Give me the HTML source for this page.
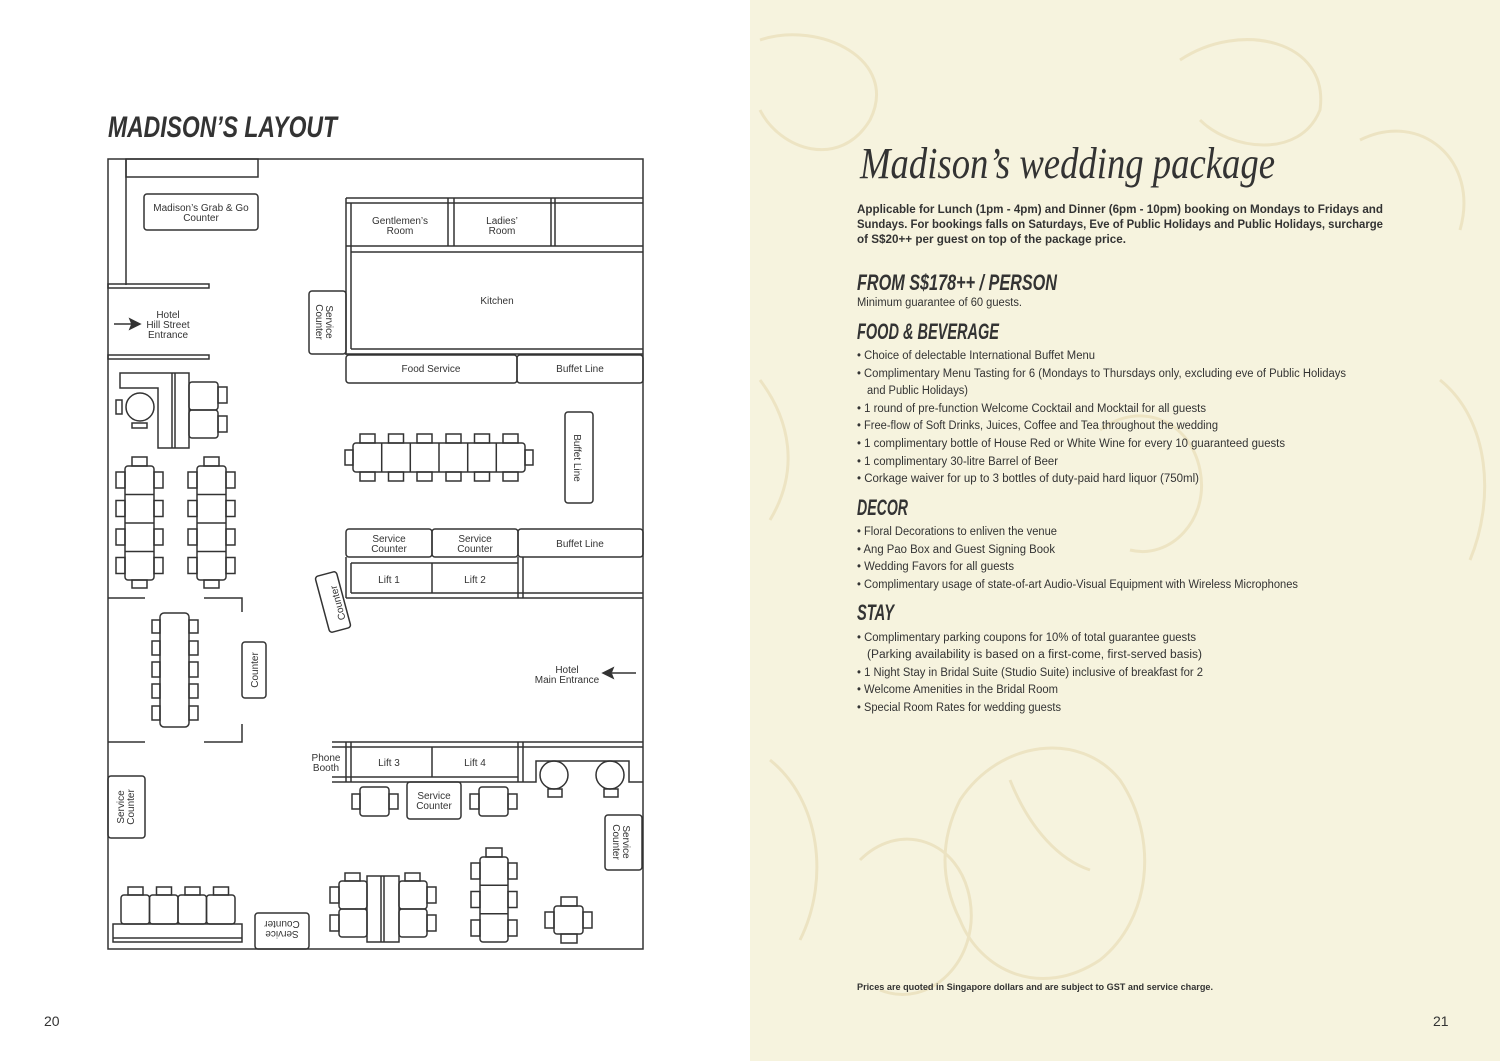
<!DOCTYPE html>
<html><head><meta charset="utf-8"><style>
html,body{margin:0;padding:0;background:#fff}
svg{display:block}
.t{font-family:"Liberation Sans",sans-serif;fill:#333}
</style></head><body>
<svg width="1500" height="1061" viewBox="0 0 1500 1061" xmlns="http://www.w3.org/2000/svg">
<rect x="0" y="0" width="750" height="1061" fill="#fff"/>
<rect x="750" y="0" width="750" height="1061" fill="#f6f3de"/>
<!-- faint floral hints -->
<g fill="none" stroke="#ece2c0" stroke-width="3" opacity="0.9">
<path d="M760 40 C820 20 900 60 870 120 C840 170 780 150 760 110"/>
<path d="M1180 60 C1240 20 1330 40 1320 110 C1300 160 1230 150 1200 120"/>
<path d="M1360 140 C1420 110 1480 160 1460 230"/>
<path d="M760 380 C790 420 800 470 770 520"/>
<path d="M1440 380 C1490 420 1495 500 1470 560"/>
<path d="M960 800 C1000 740 1080 730 1120 780 C1160 840 1150 920 1100 960 C1040 1000 980 970 960 920 C940 880 940 840 960 800Z"/>
<path d="M860 860 C900 820 960 840 970 900 C980 960 930 1010 880 990"/>
<path d="M770 760 C820 800 830 880 800 940"/>
<path d="M1010 780 C1030 830 1060 860 1090 870"/>
<path d="M1100 430 C1140 400 1190 420 1200 470 C1210 520 1170 560 1130 550"/>
</g>

<!-- LEFT PAGE -->
<text class="t" x="108" y="137" font-size="30" font-weight="bold" font-style="italic" textLength="229" lengthAdjust="spacingAndGlyphs">MADISON’S LAYOUT</text>
<text class="t" x="44" y="1026" font-size="14" fill="#444">20</text>

<g fill="none" stroke="#333" stroke-width="1.5">
<rect x="108" y="159" width="535" height="790"/>
<line x1="126" y1="159" x2="126" y2="285"/>
<rect x="126" y="159" width="132" height="18"/>
<rect x="144" y="194" width="114" height="36" rx="3"/>
<rect x="108" y="284" width="101" height="4"/>
<rect x="108" y="355" width="101" height="4"/>
<line x1="346" y1="198" x2="643" y2="198"/>
<line x1="346" y1="203" x2="643" y2="203"/>
<line x1="346" y1="198" x2="346" y2="355"/>
<line x1="351" y1="203" x2="351" y2="349"/>
<line x1="448" y1="198" x2="448" y2="246"/>
<line x1="454" y1="198" x2="454" y2="246"/>
<line x1="551" y1="198" x2="551" y2="246"/>
<line x1="555" y1="198" x2="555" y2="246"/>
<line x1="346" y1="246" x2="643" y2="246"/>
<line x1="351" y1="252" x2="643" y2="252"/>
<line x1="351" y1="349" x2="643" y2="349"/>
<line x1="346" y1="354" x2="643" y2="354"/>
<rect x="309" y="291" width="37" height="63" rx="3"/>
<rect x="346" y="355" width="171" height="28" rx="3"/>
<rect x="517" y="355" width="126" height="28" rx="3"/>
<rect x="565" y="412" width="28" height="91" rx="3"/>
<rect x="353" y="443" width="172" height="29" rx="3"/>
<line x1="381.7" y1="443" x2="381.7" y2="472"/><line x1="410.3" y1="443" x2="410.3" y2="472"/><line x1="439" y1="443" x2="439" y2="472"/><line x1="467.7" y1="443" x2="467.7" y2="472"/><line x1="496.3" y1="443" x2="496.3" y2="472"/>
<rect x="360" y="434" width="15" height="9"/><rect x="388.5" y="434" width="15" height="9"/><rect x="417" y="434" width="15" height="9"/><rect x="446" y="434" width="15" height="9"/><rect x="474.5" y="434" width="15" height="9"/><rect x="503" y="434" width="15" height="9"/>
<rect x="360" y="472" width="15" height="9"/><rect x="388.5" y="472" width="15" height="9"/><rect x="417" y="472" width="15" height="9"/><rect x="446" y="472" width="15" height="9"/><rect x="474.5" y="472" width="15" height="9"/><rect x="503" y="472" width="15" height="9"/>
<rect x="345" y="450" width="8" height="15"/><rect x="525" y="450" width="8" height="15"/>
<rect x="346" y="529" width="86" height="28" rx="3"/>
<rect x="432" y="529" width="86" height="28" rx="3"/>
<rect x="518" y="529" width="125" height="28" rx="3"/>
<line x1="346" y1="557" x2="346" y2="598"/>
<line x1="351" y1="563" x2="351" y2="593"/>
<line x1="351" y1="563" x2="518" y2="563"/>
<line x1="351" y1="593" x2="643" y2="593"/>
<line x1="346" y1="598" x2="643" y2="598"/>
<line x1="432" y1="563" x2="432" y2="593"/>
<line x1="518" y1="557" x2="518" y2="598"/>
<line x1="523" y1="557" x2="523" y2="598"/>
<rect x="322" y="573" width="22" height="58" rx="3" transform="rotate(-15 333 602)"/>
<path d="M120 373 H189 V448 H158 V388 H120 Z"/>
<line x1="172" y1="373" x2="172" y2="448"/><line x1="175" y1="373" x2="175" y2="448"/>
<circle cx="140" cy="407" r="14"/>
<rect x="116" y="400" width="6" height="14"/>
<rect x="132" y="423" width="15" height="5"/>
<rect x="189" y="382" width="29" height="28" rx="3"/>
<rect x="189" y="410" width="29" height="28" rx="3"/>
<rect x="218" y="387" width="9" height="16"/>
<rect x="218" y="416" width="9" height="16"/>
<rect x="125" y="466" width="29" height="114" rx="3"/>
<line x1="125" y1="494.5" x2="154" y2="494.5"/><line x1="125" y1="523" x2="154" y2="523"/><line x1="125" y1="551.5" x2="154" y2="551.5"/>
<rect x="132" y="457" width="15" height="9"/><rect x="132" y="580" width="15" height="8"/>
<rect x="116" y="472" width="9" height="16"/><rect x="116" y="500.5" width="9" height="16"/><rect x="116" y="529" width="9" height="16"/><rect x="116" y="557.5" width="9" height="16"/>
<rect x="154" y="472" width="9" height="16"/><rect x="154" y="500.5" width="9" height="16"/><rect x="154" y="529" width="9" height="16"/><rect x="154" y="557.5" width="9" height="16"/>
<rect x="197" y="466" width="29" height="114" rx="3"/>
<line x1="197" y1="494.5" x2="226" y2="494.5"/><line x1="197" y1="523" x2="226" y2="523"/><line x1="197" y1="551.5" x2="226" y2="551.5"/>
<rect x="204" y="457" width="15" height="9"/><rect x="204" y="580" width="15" height="8"/>
<rect x="188" y="472" width="9" height="16"/><rect x="188" y="500.5" width="9" height="16"/><rect x="188" y="529" width="9" height="16"/><rect x="188" y="557.5" width="9" height="16"/>
<rect x="226" y="472" width="9" height="16"/><rect x="226" y="500.5" width="9" height="16"/><rect x="226" y="529" width="9" height="16"/><rect x="226" y="557.5" width="9" height="16"/>
<line x1="108" y1="598" x2="145" y2="598"/><polyline points="204,598 242,598 242,612"/>
<line x1="108" y1="742" x2="145" y2="742"/><polyline points="204,742 242,742 242,724"/>
<rect x="160" y="613" width="29" height="114" rx="4"/>
<rect x="152" y="620" width="8" height="13"/><rect x="152" y="641" width="8" height="14"/><rect x="152" y="662" width="8" height="15"/><rect x="152" y="684" width="8" height="14"/><rect x="152" y="706" width="8" height="14"/>
<rect x="189" y="620" width="9" height="13"/><rect x="189" y="641" width="9" height="14"/><rect x="189" y="662" width="9" height="15"/><rect x="189" y="684" width="9" height="14"/><rect x="189" y="706" width="9" height="14"/>
<rect x="242" y="642" width="24" height="56" rx="3"/>
<line x1="332" y1="742" x2="643" y2="742"/>
<line x1="332" y1="747" x2="643" y2="747"/>
<line x1="332" y1="777" x2="518" y2="777"/>
<line x1="332" y1="782" x2="523" y2="782"/>
<line x1="346" y1="742" x2="346" y2="782"/><line x1="351" y1="742" x2="351" y2="782"/>
<line x1="432" y1="747" x2="432" y2="777"/>
<line x1="518" y1="742" x2="518" y2="782"/><line x1="523" y1="742" x2="523" y2="782"/>
<polyline points="523,782 536,782 536,761 629,761 629,782 643,782"/>
<circle cx="554" cy="775" r="14"/><circle cx="610" cy="775" r="14"/>
<rect x="548" y="789" width="14" height="8"/><rect x="604" y="789" width="14" height="8"/>
<rect x="360" y="787" width="29" height="29" rx="3"/>
<rect x="352" y="794" width="8" height="15"/><rect x="389" y="794" width="9" height="15"/>
<rect x="407" y="782" width="54" height="37" rx="3"/>
<rect x="479" y="787" width="29" height="29" rx="3"/>
<rect x="470" y="794" width="9" height="15"/><rect x="508" y="794" width="9" height="15"/>
<rect x="605" y="815" width="37" height="55" rx="3"/>
<rect x="108" y="776" width="37" height="62" rx="3"/>
<rect x="113" y="924" width="129" height="18"/>
<line x1="113" y1="938" x2="242" y2="938"/>
<rect x="121" y="895" width="28.5" height="29" rx="3"/><rect x="149.5" y="895" width="28.5" height="29" rx="3"/><rect x="178" y="895" width="28.5" height="29" rx="3"/><rect x="206.5" y="895" width="28.5" height="29" rx="3"/>
<rect x="128" y="887" width="15" height="8"/><rect x="156.5" y="887" width="15" height="8"/><rect x="185" y="887" width="15" height="8"/><rect x="213.5" y="887" width="15" height="8"/>
<rect x="255" y="913" width="54" height="36" rx="3"/>
<rect x="367" y="876" width="32" height="66"/>
<line x1="381" y1="876" x2="381" y2="942"/><line x1="384" y1="876" x2="384" y2="942"/>
<rect x="339" y="881" width="28" height="28" rx="3"/><rect x="339" y="909" width="28" height="28" rx="3"/>
<rect x="399" y="881" width="28" height="28" rx="3"/><rect x="399" y="909" width="28" height="28" rx="3"/>
<rect x="330" y="887" width="9" height="16"/><rect x="330" y="915" width="9" height="16"/>
<rect x="427" y="887" width="9" height="16"/><rect x="427" y="915" width="9" height="16"/>
<rect x="345" y="873" width="15" height="8"/><rect x="405" y="873" width="15" height="8"/>
<rect x="480" y="857" width="28" height="85" rx="3"/>
<line x1="480" y1="885.3" x2="508" y2="885.3"/><line x1="480" y1="913.7" x2="508" y2="913.7"/>
<rect x="486" y="848" width="16" height="9"/>
<rect x="471" y="863" width="9" height="16"/><rect x="471" y="891.5" width="9" height="16"/><rect x="471" y="920" width="9" height="16"/>
<rect x="508" y="863" width="9" height="16"/><rect x="508" y="891.5" width="9" height="16"/><rect x="508" y="920" width="9" height="16"/>
<rect x="554" y="906" width="29" height="28" rx="3"/>
<rect x="561" y="897" width="16" height="9"/><rect x="561" y="934" width="16" height="9"/>
<rect x="545" y="912" width="9" height="16"/><rect x="583" y="912" width="9" height="16"/>
</g>
<g stroke="#333" stroke-width="1.5" fill="#333">
<line x1="114" y1="324" x2="132" y2="324"/><path d="M140 324 L130 319 L132 324 L130 329 Z"/>
<line x1="636" y1="673" x2="612" y2="673"/><path d="M603 673 L613 668 L611 673 L613 678 Z"/>
</g>
<g class="t" font-size="10" text-anchor="middle">
<text x="201" y="211">Madison’s Grab &amp; Go</text><text x="201" y="221">Counter</text>
<text x="168" y="318">Hotel</text><text x="168" y="328">Hill Street</text><text x="168" y="338">Entrance</text>
<text x="400" y="224">Gentlemen’s</text><text x="400" y="234">Room</text>
<text x="502" y="224">Ladies’</text><text x="502" y="234">Room</text>
<text x="497" y="304">Kitchen</text>
<text x="431" y="372">Food Service</text>
<text x="580" y="372">Buffet Line</text>
<text transform="translate(574 458) rotate(90)">Buffet Line</text>
<text transform="translate(326 322) rotate(90)">Service</text><text transform="translate(316 322) rotate(90)">Counter</text>
<text x="389" y="542">Service</text><text x="389" y="552">Counter</text>
<text x="475" y="542">Service</text><text x="475" y="552">Counter</text>
<text x="580" y="547">Buffet Line</text>
<text x="389" y="583">Lift 1</text><text x="475" y="583">Lift 2</text>
<text transform="translate(341 602) rotate(-105)">Counter</text>
<text transform="translate(258 670) rotate(-90)">Counter</text>
<text x="567" y="673">Hotel</text><text x="567" y="683">Main Entrance</text>
<text x="326" y="761">Phone</text><text x="326" y="771">Booth</text>
<text x="389" y="766">Lift 3</text><text x="475" y="766">Lift 4</text>
<text x="434" y="799">Service</text><text x="434" y="809">Counter</text>
<text transform="translate(124 807) rotate(-90)">Service</text><text transform="translate(134 807) rotate(-90)">Counter</text>
<text transform="translate(623 842) rotate(90)">Service</text><text transform="translate(613 842) rotate(90)">Counter</text>
<text transform="translate(282 921) rotate(180)">Counter</text><text transform="translate(282 931) rotate(180)">Service</text>
</g>

<!-- RIGHT PAGE -->
<text x="860" y="178" font-family="Liberation Serif,serif" font-style="italic" font-size="44" fill="#333" textLength="415" lengthAdjust="spacingAndGlyphs">Madison’s wedding package</text>
<g class="t" font-size="12" font-weight="bold" fill="#2b2b2b">
<text x="857" y="213" textLength="526" lengthAdjust="spacingAndGlyphs">Applicable for Lunch (1pm - 4pm) and Dinner (6pm - 10pm) booking on Mondays to Fridays and</text>
<text x="857" y="228" textLength="526" lengthAdjust="spacingAndGlyphs">Sundays. For bookings falls on Saturdays, Eve of Public Holidays and Public Holidays, surcharge</text>
<text x="857" y="243" textLength="269" lengthAdjust="spacingAndGlyphs">of S$20++ per guest on top of the package price.</text>
</g>
<g class="t" font-weight="bold" font-style="italic" font-size="22" fill="#2b2b2b">
<text x="857" y="290" textLength="200" lengthAdjust="spacingAndGlyphs">FROM S$178++ / PERSON</text>
<text x="857" y="339" textLength="142" lengthAdjust="spacingAndGlyphs">FOOD &amp; BEVERAGE</text>
<text x="857" y="515" textLength="51" lengthAdjust="spacingAndGlyphs">DECOR</text>
<text x="857" y="620" textLength="37" lengthAdjust="spacingAndGlyphs">STAY</text>
</g>
<g class="t" font-size="11.5" fill="#444">
<text x="857" y="306" textLength="165" lengthAdjust="spacingAndGlyphs">Minimum guarantee of 60 guests.</text>
<text x="857" y="359" textLength="238" lengthAdjust="spacingAndGlyphs">• Choice of delectable International Buffet Menu</text>
<text x="857" y="377" textLength="489" lengthAdjust="spacingAndGlyphs">• Complimentary Menu Tasting for 6 (Mondays to Thursdays only, excluding eve of Public Holidays</text>
<text x="867" y="394" textLength="101" lengthAdjust="spacingAndGlyphs">and Public Holidays)</text>
<text x="857" y="412" textLength="349" lengthAdjust="spacingAndGlyphs">• 1 round of pre-function Welcome Cocktail and Mocktail for all guests</text>
<text x="857" y="429" textLength="361" lengthAdjust="spacingAndGlyphs">• Free-flow of Soft Drinks, Juices, Coffee and Tea throughout the wedding</text>
<text x="857" y="447" textLength="428" lengthAdjust="spacingAndGlyphs">• 1 complimentary bottle of House Red or White Wine for every 10 guaranteed guests</text>
<text x="857" y="465" textLength="201" lengthAdjust="spacingAndGlyphs">• 1 complimentary 30-litre Barrel of Beer</text>
<text x="857" y="482" textLength="342" lengthAdjust="spacingAndGlyphs">• Corkage waiver for up to 3 bottles of duty-paid hard liquor (750ml)</text>
<text x="857" y="535" textLength="200" lengthAdjust="spacingAndGlyphs">• Floral Decorations to enliven the venue</text>
<text x="857" y="553" textLength="198" lengthAdjust="spacingAndGlyphs">• Ang Pao Box and Guest Signing Book</text>
<text x="857" y="570" textLength="157" lengthAdjust="spacingAndGlyphs">• Wedding Favors for all guests</text>
<text x="857" y="588" textLength="441" lengthAdjust="spacingAndGlyphs">• Complimentary usage of state-of-art Audio-Visual Equipment with Wireless Microphones</text>
<text x="857" y="641" textLength="339" lengthAdjust="spacingAndGlyphs">• Complimentary parking coupons for 10% of total guarantee guests</text>
<text x="867" y="658" textLength="335" lengthAdjust="spacingAndGlyphs">(Parking availability is based on a first-come, first-served basis)</text>
<text x="857" y="676" textLength="346" lengthAdjust="spacingAndGlyphs">• 1 Night Stay in Bridal Suite (Studio Suite) inclusive of breakfast for 2</text>
<text x="857" y="693" textLength="201" lengthAdjust="spacingAndGlyphs">• Welcome Amenities in the Bridal Room</text>
<text x="857" y="711" textLength="204" lengthAdjust="spacingAndGlyphs">• Special Room Rates for wedding guests</text>
</g>
<text class="t" x="857" y="990" font-size="9.5" font-weight="bold" fill="#2b2b2b" textLength="356" lengthAdjust="spacingAndGlyphs">Prices are quoted in Singapore dollars and are subject to GST and service charge.</text>
<text class="t" x="1433" y="1026" font-size="14" fill="#444">21</text>
</svg>
</body></html>
